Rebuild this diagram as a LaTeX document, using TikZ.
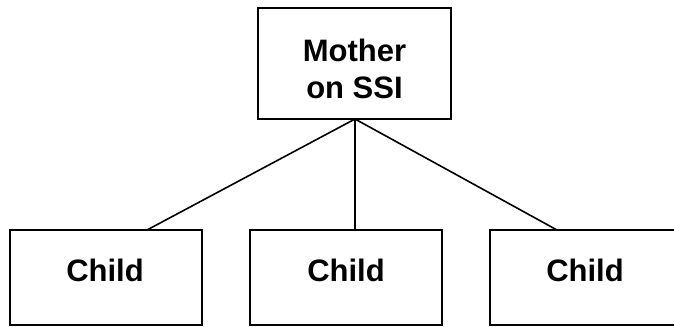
\documentclass[tikz,border=0pt]{standalone}
\usepackage{fontspec}
\setmainfont{Liberation Sans}
\begin{document}
\begin{tikzpicture}[x=1bp,y=-1bp,
  frame/.style={draw=black,line width=2bp,rectangle,inner sep=0pt},
  lbl/.style={inner sep=0pt,align=center,font=\bfseries\fontsize{31bp}{37bp}\selectfont},
  link/.style={draw=black,line width=1.6bp}]
\useasboundingbox (0,0) rectangle (674,326);
\clip (0,0) rectangle (674,326);
\node[frame,minimum width=193bp,minimum height=111bp] (mom) at (354.5,63.5) {};
\node[lbl] (momtext) at ([yshift=-5bp]mom.center) {Mother\\on SSI};
\node[frame,minimum width=192bp,minimum height=95bp] (c1) at (106,277.5) {};
\node[frame,minimum width=192bp,minimum height=95bp] (c2) at (346,277.5) {};
\node[frame,minimum width=190bp,minimum height=95bp] (c3) at (585,277.5) {};
\node[lbl,anchor=base] (t1) at (105,281) {Child};
\node[lbl,anchor=base] (t2) at (346,281) {Child};
\node[lbl,anchor=base] (t3) at (585,281) {Child};
\coordinate (m) at (355,119);
\draw[link] (m) -- (147,230);
\draw[link] (m) -- (m |- c2.north);
\draw[link] (m) -- (557,230);
\end{tikzpicture}
\end{document}
